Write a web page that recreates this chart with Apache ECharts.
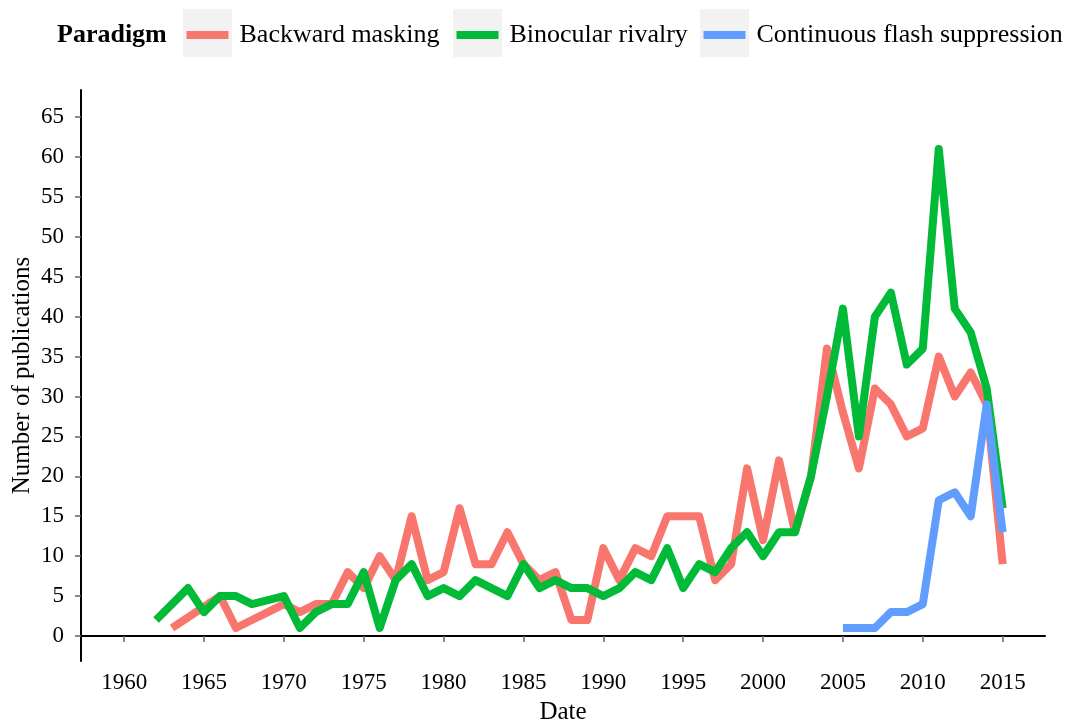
<!DOCTYPE html>
<html>
<head>
<meta charset="utf-8">
<script src="https://cdn.jsdelivr.net/npm/echarts@6/dist/echarts.min.js"></script>
<style>
  html, body { margin: 0; padding: 0; background: #fff; }
  #main { width: 1073px; height: 726px; }
</style>
</head>
<body>
<div id="main"></div>
<script>
function range(a, b) {
  var out = [];
  for (var i = a; i <= b; i++) out.push(i);
  return out;
}

// Backward masking (no points for 1964, 1965)
var maskingYears = [1963].concat(range(1966, 2015));
var maskingValues = [1,
  5, 1, 2, 3, 4, 3, 4, 4, 8, 6,
  10, 7, 15, 7, 8, 16, 9, 9, 13, 9,
  7, 8, 2, 2, 11, 7, 11, 10, 15, 15,
  15, 7, 9, 21, 12, 22, 13, 20, 36, 28,
  21, 31, 29, 25, 26, 35, 30, 33, 29, 9];

// Binocular rivalry (no points for 1963, 1969)
var rivalryYears = [1962, 1964, 1965, 1966, 1967, 1968, 1970].concat(range(1971, 2015));
var rivalryValues = [2, 6, 3, 5, 5, 4, 5,
  1, 3, 4, 4, 8, 1, 7, 9, 5, 6,
  5, 7, 6, 5, 9, 6, 7, 6, 6, 5,
  6, 8, 7, 11, 6, 9, 8, 11, 13, 10,
  13, 13, 20, 30, 41, 25, 40, 43, 34, 36,
  61, 41, 38, 31, 16];

// Continuous flash suppression
var cfsYears = range(2005, 2015);
var cfsValues = [1, 1, 1, 3, 3, 4, 17, 18, 15, 29, 13];

var xTicks = [1960, 1965, 1970, 1975, 1980, 1985, 1990, 1995, 2000, 2005, 2010, 2015];
var yTicks = [0, 5, 10, 15, 20, 25, 30, 35, 40, 45, 50, 55, 60, 65];

var seriesNames = ["Backward masking", "Binocular rivalry", "Continuous flash suppression"];
var colors = ["#F8766D", "#00BA38", "#619CFF"];

function pairs(xs, ys) {
  return xs.map(function (x, i) { return [x, ys[i]]; });
}

var font = "'Liberation Serif', 'Times New Roman', serif";

var myChart = echarts.init(document.getElementById("main"));
var option;

// legend key backgrounds (grey boxes)
var keyLeft = [183, 453, 700];

option = {
  animation: false,
  color: colors,
  textStyle: { fontFamily: font },
  title: {
    text: "Paradigm",
    left: 57,
    top: 22,
    padding: 0,
    textStyle: { fontFamily: font, fontWeight: "bold", fontSize: 26, color: "#000" },
  },
  graphic: keyLeft.map(function (x) {
    return {
      type: "rect",
      z: 0,
      shape: { x: x, y: 9, width: 49, height: 48 },
      style: { fill: "#f2f2f2" },
    };
  }),
  legend: seriesNames.map(function (name, i) {
    return {
      data: [name],
      left: keyLeft[i] + 3.5,
      top: 22,
      padding: 0,
      z: 5,
      icon: "rect",
      itemWidth: 42,
      itemHeight: 8,
      selectedMode: false,
      textStyle: { fontFamily: font, fontSize: 26, color: "#000", padding: [0, 0, 0, 6] },
    };
  }),
  grid: {
    left: 81,
    right: 28,
    top: 90,
    bottom: 65,
    containLabel: false,
    outerBoundsMode: "none",
  },
  xAxis: {
    type: "value",
    min: 1957.3,
    max: 2017.65,
    name: "Date",
    nameLocation: "middle",
    nameGap: 39,
    nameMoveOverlap: false,
    nameTextStyle: { fontFamily: font, fontSize: 25, color: "#000" },
    axisLine: { show: true, lineStyle: { color: "#000", width: 2 } },
    axisTick: { show: true, length: 6, customValues: xTicks, lineStyle: { color: "#666", width: 1.5 } },
    axisLabel: {
      customValues: xTicks,
      formatter: function (v) { return String(v); },
      margin: 10,
      fontFamily: font,
      fontSize: 23,
      color: "#000",
    },
    splitLine: { show: false },
  },
  yAxis: {
    type: "value",
    min: -3.13,
    max: 68.38,
    name: "Number of publications",
    nameLocation: "middle",
    nameGap: 46,
    nameMoveOverlap: false,
    nameTextStyle: { fontFamily: font, fontSize: 25, color: "#000" },
    axisLine: { show: true, lineStyle: { color: "#000", width: 2 } },
    axisTick: { show: true, length: 6, customValues: yTicks, lineStyle: { color: "#666", width: 1.5 } },
    axisLabel: {
      customValues: yTicks,
      margin: 17,
      fontFamily: font,
      fontSize: 23,
      color: "#000",
    },
    splitLine: { show: false },
  },
  series: [
    { name: seriesNames[0], data: pairs(maskingYears, maskingValues) },
    { name: seriesNames[1], data: pairs(rivalryYears, rivalryValues) },
    { name: seriesNames[2], data: pairs(cfsYears, cfsValues) },
  ].map(function (s, i) {
    return {
      name: s.name,
      type: "line",
      data: s.data,
      z: 2 + i,
      showSymbol: false,
      symbol: "none",
      lineStyle: { width: 8, color: colors[i], cap: "butt", join: "round" },
      itemStyle: { color: colors[i] },
    };
  }),
};

option && myChart.setOption(option);
</script>
</body>
</html>
